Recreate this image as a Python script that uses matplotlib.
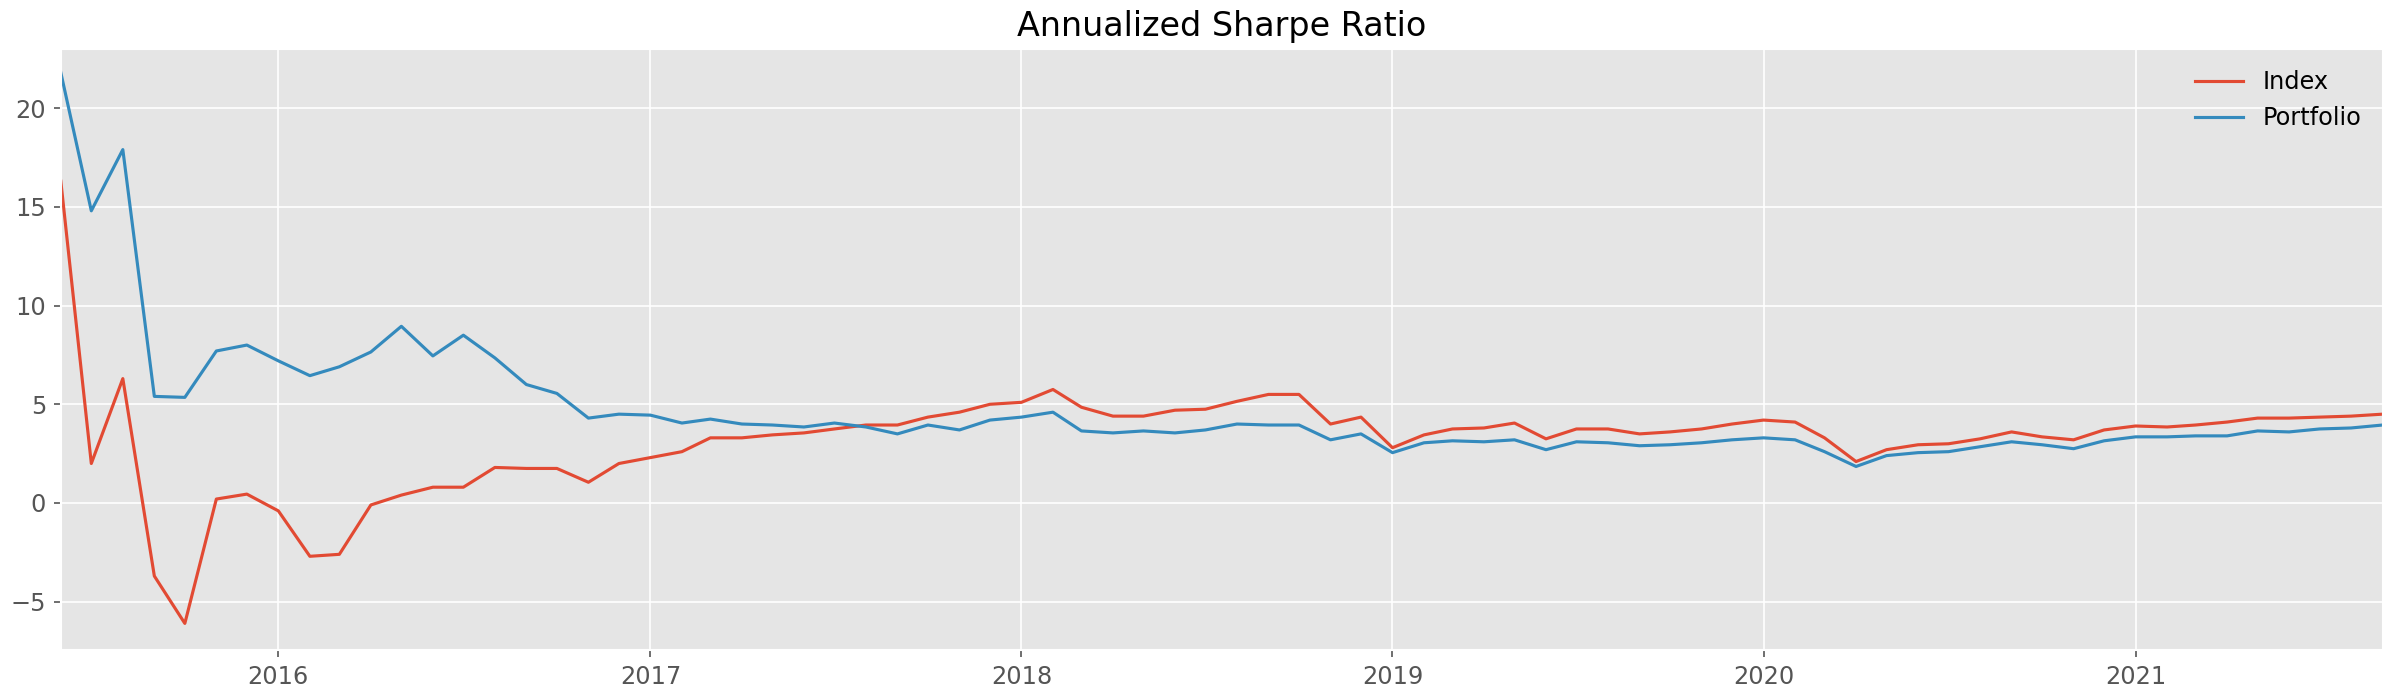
import numpy as np
import pandas as pd
import matplotlib.pyplot as plt

plt.style.use('ggplot')

dates = pd.date_range('2015-06-01', periods=76, freq='MS')

index_sharpe = [16.3, 2.0, 6.3, -3.7, -6.1, 0.2, 0.45,
                -0.4, -2.7, -2.6, -0.1, 0.4, 0.8, 0.8, 1.8, 1.75, 1.75, 1.05, 2.0,
                2.3, 2.6, 3.3, 3.3, 3.45, 3.55, 3.75, 3.95, 3.95, 4.35, 4.6, 5.0,
                5.1, 5.75, 4.85, 4.4, 4.4, 4.7, 4.75, 5.15, 5.5, 5.5, 4.0, 4.35,
                2.8, 3.45, 3.75, 3.8, 4.05, 3.25, 3.75, 3.75, 3.5, 3.6, 3.75, 4.0,
                4.2, 4.1, 3.3, 2.1, 2.7, 2.95, 3.0, 3.25, 3.6, 3.35, 3.2, 3.7,
                3.9, 3.85, 3.95, 4.1, 4.3, 4.3, 4.35, 4.4, 4.5]
portfolio_sharpe = [21.8, 14.8, 17.9, 5.4, 5.35, 7.7, 8.0,
                    7.2, 6.45, 6.9, 7.65, 8.95, 7.45, 8.5, 7.35, 6.0, 5.55, 4.3, 4.5,
                    4.45, 4.05, 4.25, 4.0, 3.95, 3.85, 4.05, 3.85, 3.5, 3.95, 3.7, 4.2,
                    4.35, 4.6, 3.65, 3.55, 3.65, 3.55, 3.7, 4.0, 3.95, 3.95, 3.2, 3.5,
                    2.55, 3.05, 3.15, 3.1, 3.2, 2.7, 3.1, 3.05, 2.9, 2.95, 3.05, 3.2,
                    3.3, 3.2, 2.6, 1.85, 2.4, 2.55, 2.6, 2.85, 3.1, 2.95, 2.75, 3.15,
                    3.35, 3.35, 3.4, 3.4, 3.65, 3.6, 3.75, 3.8, 3.95]

fig, ax = plt.subplots(figsize=(15.9, 4.66), dpi=150)
fig.subplots_adjust(left=0.0255, right=0.999, top=0.93, bottom=0.07)
ax.plot(dates, index_sharpe, label='Index', lw=1.5)
ax.plot(dates, portfolio_sharpe, label='Portfolio', lw=1.5)
ax.set_xlim(dates[0], dates[-1])
ax.set_ylim(-7.45, 23)
ax.set_title('Annualized Sharpe Ratio', fontsize=16)
ax.tick_params(labelsize=11.5)
ax.legend(frameon=False, loc='upper right', fontsize=11.5)
fig.savefig('out.png')
